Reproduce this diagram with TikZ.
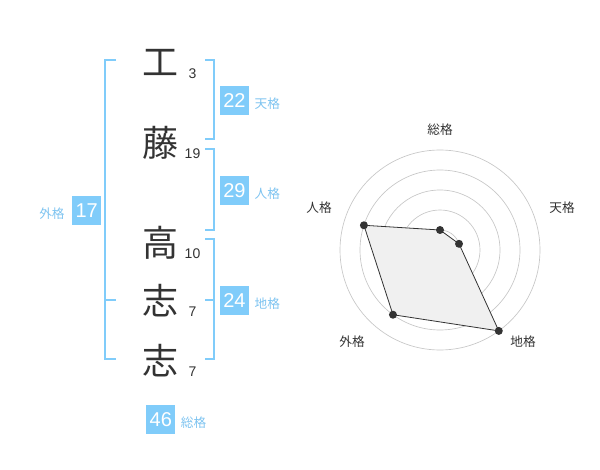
\documentclass[tikz,border=0pt]{standalone}
\usepackage{fontspec}
\setmainfont{Liberation Sans}
\newfontfamily\jpfont{Noto Sans CJK JP}
\usetikzlibrary{positioning}

\definecolor{kakublue}{RGB}{128,204,250}
\definecolor{labelblue}{RGB}{125,195,240}
\definecolor{inkgray}{RGB}{51,51,51}

\tikzset{
	kanji/.style={font=\jpfont\fontsize{27}{27}\selectfont, text=inkgray, inner sep=0pt},
	strokes/.style={font=\fontsize{10.5}{10.5}\selectfont, text=inkgray, inner sep=0pt},
	kakubox/.style={fill=kakublue, text=white, minimum size=21.75pt, inner sep=0pt, font=\fontsize{15}{15}\selectfont},
	kakulabel/.style={font=\jpfont\fontsize{9.5}{9.5}\selectfont, text=labelblue, inner sep=0pt},
	bracket/.style={draw=kakublue, line width=1.4pt},
	ring/.style={draw=black!22, line width=0.5pt},
	dot/.style={circle, fill=inkgray, inner sep=0pt, minimum size=6pt},
	axislabel/.style={font=\jpfont\fontsize{9.5}{9.5}\selectfont, text=inkgray, inner sep=0pt}
}

\begin{document}
\begin{tikzpicture}[x=0.75pt,y=-0.75pt]
	\useasboundingbox (0,0) rectangle (600,470);
	
	% name and stroke counts
	\foreach \k/\y/\n [count=\i] in {工/62.5/3,藤/142.5/19,高/242.5/10,志/300.5/7,志/360.5/7}{
		\node (k\i) [kanji] at (160,\y) {\k};
		\node (n\i) [strokes] at (192.5,\y+11) {\n};
	}
	
	% brackets
	\draw [bracket] (116,60) -- (105,60) -- (105,359.3) -- (116,359.3);
	\draw [bracket] (105,300) -- (116,300);
	\draw [bracket] (205,60) -- (214.3,60) -- (214.3,139.3) -- (205,139.3);
	\draw [bracket] (205,149.3) -- (214.3,149.3) -- (214.3,230) -- (205,230);
	\draw [bracket] (205,239.3) -- (214.3,239.3) -- (214.3,359.3) -- (205,359.3);
	\draw [bracket] (205,300) -- (214.3,300);
	
	% scores
	\node (b22) [kakubox] at (234.5,100.5) {22};
	\node (b29) [kakubox] at (234.5,190.5) {29};
	\node (b24) [kakubox] at (234.5,300.3) {24};
	\node (b17) [kakubox] at (86.7,210.5) {17};
	\node (b46) [kakubox] at (160.8,419.2) {46};
	\node (l22) [kakulabel, right=3.8pt of b22, yshift=-2.5pt] {天格};
	\node (l29) [kakulabel, right=3.8pt of b29, yshift=-2.5pt] {人格};
	\node (l24) [kakulabel, right=3.8pt of b24, yshift=-2.5pt] {地格};
	\node (l17) [kakulabel, left=5.3pt of b17, yshift=-2.5pt] {外格};
	\node (l46) [kakulabel, right=3.8pt of b46, yshift=-2.5pt] {総格};
	
	% radar
	\foreach \r in {20,40,...,100}
	\draw [ring] (440,250) circle ({\r*0.75pt});
	\node (c) [circle, fill=black!22, inner sep=0pt, minimum size=5.5pt] at (440,250) {};
	\foreach \name/\a/\r in {sou/90/20,ten/18/20,chi/-54/100,gai/234/80,jin/162/80}
	\coordinate (\name) at ([shift={(-\a:\r)}]c);
	\draw [fill=black!6, draw=inkgray, line width=0.6pt] (sou) -- (ten) -- (chi) -- (gai) -- (jin) -- cycle;
	\foreach \name in {sou,ten,chi,gai,jin}
	\node (d\name) [dot] at (\name) {};
	
	\node (asou) [axislabel] at (440,130) {総格};
	\node (aten) [axislabel] at (562,208) {天格};
	\node (ajin) [axislabel] at (319,208) {人格};
	\node (agai) [axislabel] at (352,342) {外格};
	\node (achi) [axislabel] at (523,342) {地格};
	
\end{tikzpicture}
\end{document}
